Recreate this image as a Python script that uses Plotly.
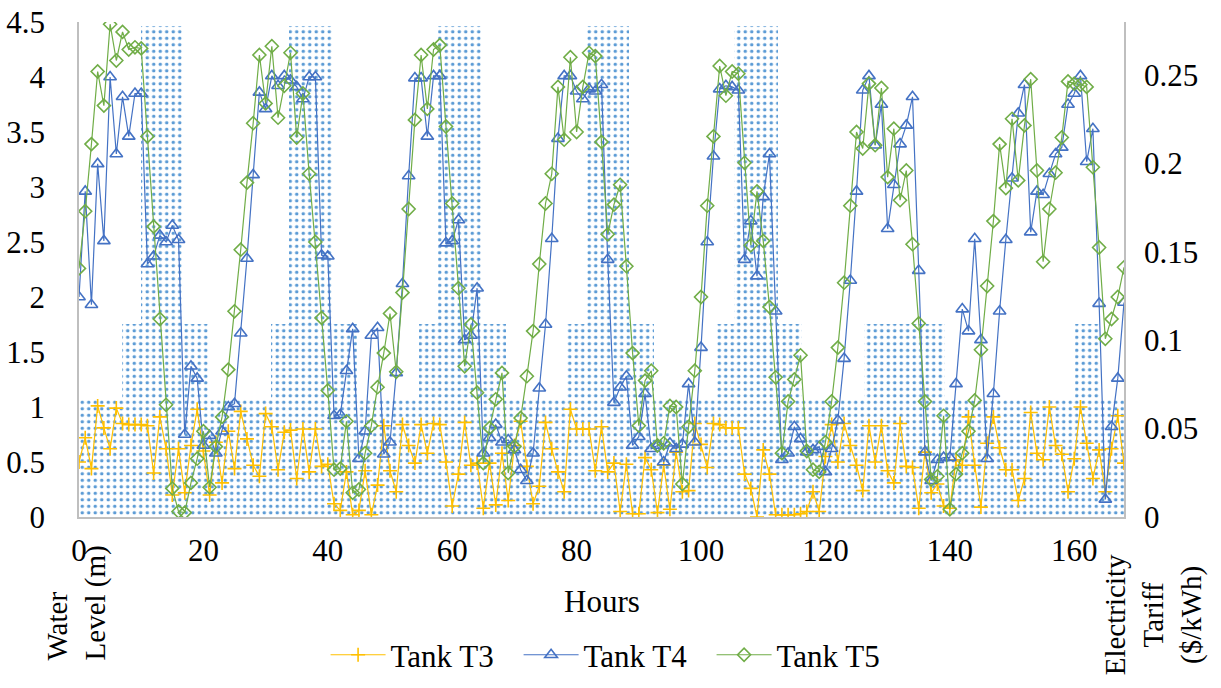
import plotly.graph_objects as go

HOURS = list(range(169))
BAR_INDEX = list(range(169))

TANK_T3 = [0.50, 0.72, 0.44, 1.01, 0.81, 0.62, 0.99, 0.85, 0.84, 0.84, 0.84, 0.83, 0.40, 0.91, 0.62, 0.20, 0.62, 0.22, 0.65, 0.98, 0.60, 0.20, 0.68, 0.31,
           0.78, 0.44, 0.96, 0.71, 0.47, 0.37, 0.94, 0.82, 0.43, 0.77, 0.79, 0.35, 0.80, 0.41, 0.80, 0.46, 0.48, 0.12, 0.06, 0.41, 0.02, 0.06, 0.42, 0.02,
           0.29, 0.83, 0.42, 0.23, 0.84, 0.65, 0.49, 0.84, 0.58, 0.85, 0.84, 0.50, 0.10, 0.39, 0.86, 0.47, 0.49, 0.08, 0.49, 0.11, 0.58, 0.15, 0.65, 0.87,
           0.46, 0.12, 0.28, 0.86, 0.62, 0.41, 0.23, 0.98, 0.80, 0.80, 0.80, 0.42, 0.82, 0.41, 0.49, 0.05, 0.48, 0.03, 0.03, 0.54, 0.43, 0.04, 0.47, 0.07,
           0.59, 0.23, 0.24, 0.85, 0.66, 0.45, 0.85, 0.84, 0.81, 0.81, 0.81, 0.39, 0.26, 0.00, 0.61, 0.39, 0.02, 0.02, 0.02, 0.02, 0.03, 0.05, 0.23, 0.05,
           0.55, 0.84, 0.50, 0.85, 0.65, 0.47, 0.24, 0.83, 0.50, 0.83, 0.42, 0.31, 0.85, 0.46, 0.45, 0.08, 0.59, 0.22, 0.30, 0.10, 0.08, 0.52, 0.47, 0.91,
           0.47, 0.09, 0.67, 0.91, 0.63, 0.43, 0.43, 0.15, 0.35, 0.95, 0.58, 0.52, 1.00, 0.65, 0.57, 0.23, 0.53, 1.00, 0.67, 0.35, 0.61, 0.23, 0.62, 0.92,
           0.49]

TANK_T4 = [2.00, 2.96, 1.93, 3.21, 2.51, 4.00, 3.30, 3.82, 3.46, 3.85, 3.85, 2.30, 2.37, 2.56, 2.50, 2.65, 2.52, 0.75, 1.37, 1.26, 0.65, 0.74, 0.58, 0.78,
           1.00, 1.03, 1.67, 2.35, 3.11, 3.86, 3.71, 4.01, 3.92, 4.01, 3.97, 3.91, 3.80, 4.00, 4.00, 2.38, 2.37, 0.92, 0.93, 1.33, 1.71, 0.53, 0.78, 1.65,
           1.72, 0.57, 0.68, 1.31, 2.12, 3.10, 3.99, 3.99, 3.46, 4.01, 4.01, 2.49, 2.51, 2.70, 1.61, 1.65, 2.08, 0.58, 0.72, 0.84, 0.68, 0.70, 0.61, 0.43,
           0.33, 0.58, 1.17, 1.75, 2.53, 3.44, 4.01, 4.01, 3.87, 3.80, 3.89, 3.87, 3.93, 2.34, 1.04, 1.18, 1.28, 0.65, 0.73, 1.12, 0.62, 0.65, 0.50, 0.67,
           0.62, 0.66, 1.21, 0.68, 1.54, 2.50, 3.28, 3.89, 3.92, 3.91, 3.88, 2.34, 2.69, 2.19, 2.91, 3.30, 1.87, 0.52, 0.58, 0.82, 0.71, 0.59, 0.61, 0.64,
           0.41, 0.62, 0.88, 1.44, 2.15, 2.96, 3.88, 4.01, 3.38, 3.75, 2.62, 3.02, 3.39, 3.56, 3.82, 2.24, 0.59, 0.33, 0.52, 0.54, 0.54, 1.21, 1.89, 1.69,
           2.53, 1.61, 0.53, 1.12, 1.87, 2.52, 3.08, 3.67, 3.93, 2.59, 2.96, 2.93, 3.12, 3.30, 3.36, 3.75, 3.85, 4.01, 3.23, 3.53, 1.94, 0.16, 0.82, 1.26,
           1.95]

TANK_T5 = [2.26, 2.78, 3.39, 4.05, 3.74, 4.48, 4.15, 4.41, 4.25, 4.27, 4.26, 3.46, 2.64, 1.80, 1.02, 0.26, 0.05, 0.04, 0.31, 0.53, 0.78, 0.27, 0.64, 0.91,
           1.34, 1.87, 2.43, 3.04, 3.58, 4.20, 3.76, 4.28, 3.63, 3.92, 4.22, 3.45, 3.85, 3.12, 2.50, 1.81, 1.15, 0.43, 0.44, 0.87, 0.22, 0.25, 0.58, 0.83,
           1.18, 1.49, 1.85, 1.32, 2.04, 2.80, 3.61, 4.20, 3.71, 4.25, 4.29, 3.55, 2.85, 2.08, 1.37, 1.75, 1.13, 0.49, 0.81, 1.07, 1.31, 0.40, 0.64, 0.90,
           1.28, 1.69, 2.30, 2.85, 3.12, 3.91, 3.43, 4.18, 3.50, 3.91, 4.22, 4.19, 3.41, 2.57, 2.84, 3.02, 2.28, 1.49, 0.83, 1.24, 1.33, 0.65, 0.67, 1.01,
           1.00, 0.30, 0.82, 1.33, 2.00, 2.83, 3.46, 4.10, 3.83, 4.05, 4.03, 3.22, 2.47, 2.96, 2.51, 1.91, 1.27, 0.58, 1.05, 1.25, 1.47, 0.60, 0.43, 0.41,
           0.68, 1.05, 1.54, 2.13, 2.83, 3.50, 3.35, 3.94, 3.38, 3.90, 3.09, 3.53, 2.88, 3.15, 2.48, 1.76, 1.05, 0.34, 0.37, 0.92, 0.07, 0.39, 0.58, 0.78,
           1.06, 1.52, 2.10, 2.69, 3.39, 2.99, 3.62, 3.06, 3.56, 3.98, 3.15, 2.32, 2.80, 3.13, 3.45, 3.96, 3.94, 3.93, 3.91, 3.18, 2.45, 1.62, 1.80, 2.00,
           2.27]

# Electricity tariff ($/kWh) per hourly column
TARIFF = [0.067, 0.067, 0.067, 0.067, 0.067, 0.067, 0.067, 0.109, 0.109, 0.109, 0.278, 0.278, 0.278, 0.278, 0.278, 0.278, 0.278, 0.109, 0.109, 0.109, 0.109, 0.067, 0.067, 0.067,
          0.067, 0.067, 0.067, 0.067, 0.067, 0.067, 0.067, 0.109, 0.109, 0.109, 0.278, 0.278, 0.278, 0.278, 0.278, 0.278, 0.278, 0.109, 0.109, 0.109, 0.109, 0.067, 0.067, 0.067,
          0.067, 0.067, 0.067, 0.067, 0.067, 0.067, 0.067, 0.109, 0.109, 0.109, 0.278, 0.278, 0.278, 0.278, 0.278, 0.278, 0.278, 0.109, 0.109, 0.109, 0.109, 0.067, 0.067, 0.067,
          0.067, 0.067, 0.067, 0.067, 0.067, 0.067, 0.067, 0.109, 0.109, 0.109, 0.278, 0.278, 0.278, 0.278, 0.278, 0.278, 0.278, 0.109, 0.109, 0.109, 0.109, 0.067, 0.067, 0.067,
          0.067, 0.067, 0.067, 0.067, 0.067, 0.067, 0.067, 0.109, 0.109, 0.109, 0.278, 0.278, 0.278, 0.278, 0.278, 0.278, 0.278, 0.109, 0.109, 0.109, 0.109, 0.067, 0.067, 0.067,
          0.067, 0.067, 0.067, 0.067, 0.067, 0.067, 0.067, 0.109, 0.109, 0.109, 0.109, 0.109, 0.109, 0.109, 0.109, 0.109, 0.109, 0.109, 0.109, 0.109, 0.067, 0.067, 0.067, 0.067,
          0.067, 0.067, 0.067, 0.067, 0.067, 0.067, 0.067, 0.067, 0.067, 0.067, 0.067, 0.067, 0.067, 0.067, 0.067, 0.067, 0.067, 0.109, 0.109, 0.109, 0.109, 0.067, 0.067, 0.067,
          0.067]

X_TICKS = [0, 20, 40, 60, 80, 100, 120, 140, 160]
LEFT_TICKS = [0, 0.5, 1, 1.5, 2, 2.5, 3, 3.5, 4, 4.5]
LEFT_TICK_TEXT = ["0", "0.5", "1", "1.5", "2", "2.5", "3", "3.5", "4", "4.5"]
RIGHT_TICKS = [0, 0.05, 0.1, 0.15, 0.2, 0.25]
RIGHT_TICK_TEXT = ["0", "0.05", "0.1", "0.15", "0.2", "0.25"]

SERIF = "Liberation Serif"
AXIS_GRAY = "#BFBFBF"
TXT = 31

fig = go.Figure()

fig.add_trace(go.Bar(
    x=BAR_INDEX, y=TARIFF, xaxis="x", yaxis="y", width=1, showlegend=False,
    marker=dict(color="white", line=dict(width=0),
                pattern=dict(shape=".", fgcolor="#5B9BD5", bgcolor="white",
                             size=6.5, solidity=0.22)),
    hoverinfo="skip",
))

series = [
    ("Tank T3", TANK_T3, "#FFC000", dict(symbol="cross-thin", size=10, line=dict(width=1.6, color="#FFC000"))),
    ("Tank T4", TANK_T4, "#4472C4", dict(symbol="triangle-up-open", size=11, line=dict(width=1.6, color="#4472C4"))),
    ("Tank T5", TANK_T5, "#70AD47", dict(symbol="diamond-open", size=10, line=dict(width=1.6, color="#70AD47"))),
]
for name, vals, col, mk in series:
    fig.add_trace(go.Scatter(
        x=HOURS, y=vals, name=name, mode="lines+markers", xaxis="x2", yaxis="y2",
        line=dict(color=col, width=1.2), marker=dict(color=col, **mk),
    ))

fig.update_layout(
    template="none",
    width=1221, height=688,
    margin=dict(l=79, r=97, t=22, b=171, autoexpand=False),
    paper_bgcolor="white", plot_bgcolor="white",
    font=dict(family=SERIF, size=TXT, color="black"),
    bargap=0,
    xaxis=dict(range=[-0.5, 168.5], visible=False, fixedrange=True, automargin=False),
    yaxis=dict(range=[0, 0.28], side="right", tickvals=RIGHT_TICKS, ticktext=RIGHT_TICK_TEXT,
               showgrid=False, zeroline=False, showline=True, linecolor=AXIS_GRAY, linewidth=1.5,
               ticks="", ticklabelstandoff=12, tickfont=dict(family=SERIF, size=TXT, color="black"),
               automargin=False),
    xaxis2=dict(range=[0, 168], overlaying="x", anchor="y2", side="bottom",
                tickvals=X_TICKS, showgrid=False, zeroline=False, showline=True,
                linecolor=AXIS_GRAY, linewidth=1.5, ticks="", ticklabelstandoff=5,
                tickfont=dict(family=SERIF, size=TXT, color="black"), automargin=False),
    yaxis2=dict(range=[0, 4.5], overlaying="y", anchor="x2", side="left",
                tickvals=LEFT_TICKS, ticktext=LEFT_TICK_TEXT, showgrid=False, zeroline=False,
                showline=True, linecolor=AXIS_GRAY, linewidth=1.5, ticks="",
                ticklabelstandoff=26, tickfont=dict(family=SERIF, size=TXT, color="black"),
                automargin=False),
    legend=dict(orientation="h", x=0.513, xanchor="center", y=-0.279, yanchor="middle",
                font=dict(family=SERIF, size=TXT, color="black"), itemwidth=55,
                entrywidth=123, entrywidthmode="pixels", bgcolor="rgba(0,0,0,0)"),
    annotations=[
        dict(text="Hours", x=0.5, y=-0.17, xref="paper", yref="paper",
             xanchor="center", yanchor="middle", showarrow=False,
             font=dict(family=SERIF, size=TXT, color="black")),
        dict(text="Water<br>Level (m)", x=-0.002, y=-0.293, xref="paper", yref="paper",
             xanchor="center", yanchor="bottom", textangle=-90, align="left",
             showarrow=False, font=dict(family=SERIF, size=29, color="black")),
        dict(text="Electricity<br>Tariff<br>($/kWh)", x=1.028, y=-0.198, xref="paper", yref="paper",
             xanchor="center", yanchor="middle", textangle=-90, align="center",
             showarrow=False, font=dict(family=SERIF, size=29, color="black")),
    ],
)

fig.write_html("out.html")
